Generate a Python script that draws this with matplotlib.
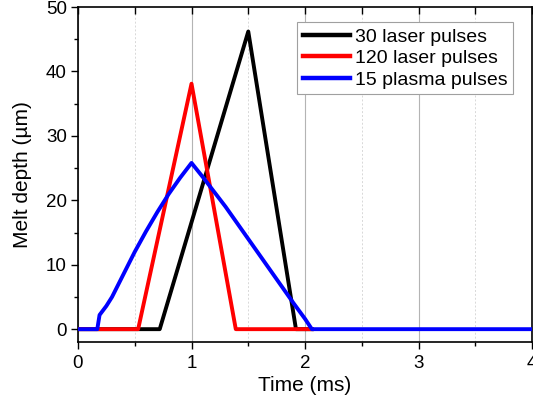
import matplotlib
matplotlib.use("Agg")
import matplotlib.pyplot as plt
from matplotlib.ticker import MultipleLocator

plt.rcParams['font.family'] = ['Liberation Sans', 'DejaVu Sans']

# Melt depth vs time for the three treatments
t_laser30 = [0.0, 0.72, 1.5, 1.92, 2.06]
d_laser30 = [0.0, 0.0, 46.2, 0.0, 0.0]

t_laser120 = [0.0, 0.53, 1.0, 1.39, 2.06]
d_laser120 = [0.0, 0.0, 38.1, 0.0, 0.0]

t_plasma15 = [0.0, 0.17, 0.19, 0.25, 0.3, 0.4, 0.5, 0.6, 0.7, 0.8, 0.9, 1.0,
              1.1, 1.2, 1.3, 1.4, 1.5, 1.6, 1.7, 1.8, 1.9, 2.0, 2.06, 4.0]
d_plasma15 = [0.0, 0.0, 2.2, 3.6, 5.0, 8.5, 12.0, 15.2, 18.2, 21.0, 23.5, 25.8,
              23.6, 21.3, 19.0, 16.5, 14.0, 11.5, 9.0, 6.5, 4.0, 1.6, 0.0, 0.0]

labels = ["30 laser pulses", "120 laser pulses", "15 plasma pulses"]
colors = ["#000000", "#ff0000", "#0000ff"]

fig = plt.figure(figsize=(5.33, 4.01), dpi=100)
ax = fig.add_axes([0.1463, 0.147, 0.852, 0.8355])

ax.plot(t_laser30, d_laser30, color=colors[0], lw=2.8, label=labels[0], zorder=3)
ax.plot(t_laser120, d_laser120, color=colors[1], lw=2.8, label=labels[1], zorder=4)
ax.plot(t_plasma15, d_plasma15, color=colors[2], lw=2.8, label=labels[2], zorder=5)

ax.set_xlim(0, 4)
ax.set_ylim(-2, 50)
ax.xaxis.set_major_locator(MultipleLocator(1))
ax.xaxis.set_minor_locator(MultipleLocator(0.5))
ax.yaxis.set_major_locator(MultipleLocator(10))
ax.yaxis.set_minor_locator(MultipleLocator(5))

ax.grid(True, which='major', axis='x', color='#b4b4b4', lw=0.8)
ax.grid(True, which='minor', axis='x', color='#d8d8d8', lw=0.7, ls=(0, (2, 2)))
ax.set_axisbelow(True)

ax.tick_params(axis='both', which='major', direction='out', length=5, width=1,
               labelsize=13.5, colors='black')
ax.tick_params(axis='both', which='minor', direction='out', length=3, width=1)
ax.tick_params(axis='x', which='both', top=True)
ax.tick_params(axis='x', which='major', pad=4)
ax.tick_params(axis='y', which='major', pad=3)

for s in ax.spines.values():
    s.set_linewidth(1.2)

# top ticks point inward
for tk in ax.xaxis.get_major_ticks() + ax.xaxis.get_minor_ticks():
    tk.tick2line.set_marker(3)
    tk.tick2line.set_markersize(5)

ax.set_xlabel("Time (ms)", fontsize=15, labelpad=3)
ax.set_ylabel("Melt depth (µm)", fontsize=15, labelpad=10)

leg = ax.legend(loc='upper right', bbox_to_anchor=(0.958, 0.955), fontsize=14,
                handlelength=2.4, handletextpad=0.25, borderpad=0.3,
                labelspacing=0.2, fancybox=False, framealpha=1,
                edgecolor='#a0a0a0', borderaxespad=0)
leg.get_frame().set_linewidth(0.8)
for h in leg.get_lines():
    h.set_linewidth(3.2)

fig.savefig("out.png", dpi=100)
